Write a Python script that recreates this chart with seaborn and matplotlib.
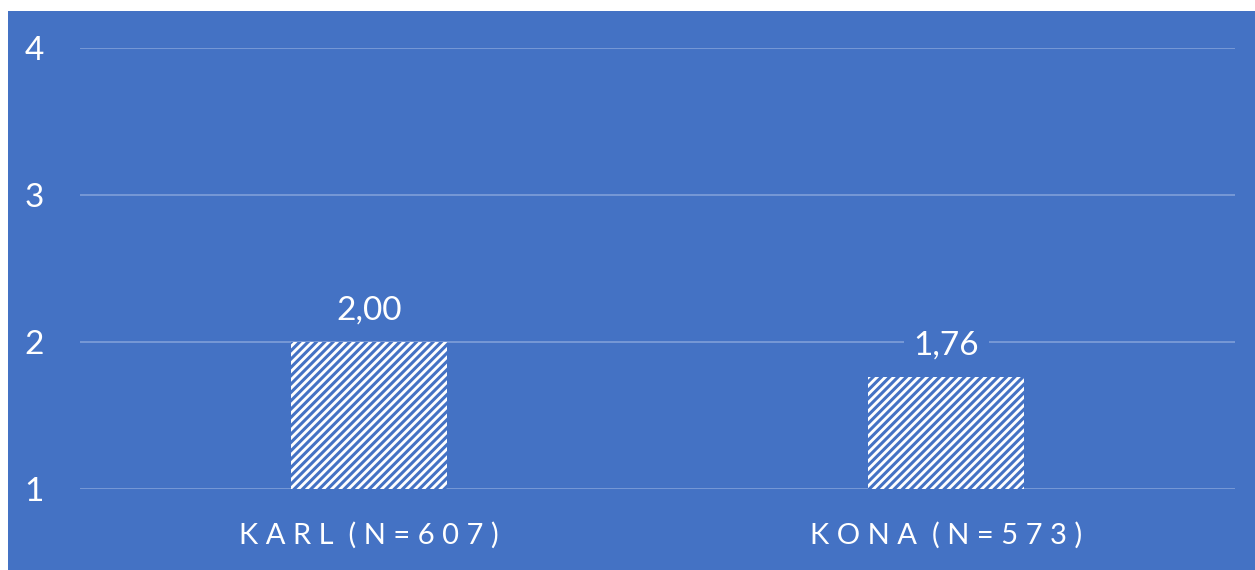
import matplotlib
matplotlib.use("Agg")
import matplotlib.pyplot as plt
import pandas as pd
import seaborn as sns
from matplotlib.patches import Rectangle

# ── Data ───────────────────────────────────────────────────────────────────
groups = ["KARL (N=607)", "KONA (N=573)"]
means = [2.00, 1.76]
y_ticks = [1, 2, 3, 4]

BLUE = "#4472C4"
GRID = "#7f9fd9"

sns.set_theme(style="white")
plt.rcParams["font.family"] = ["Lato", "DejaVu Sans"]
plt.rcParams["hatch.linewidth"] = 2.2

df = pd.DataFrame({"group": groups, "mean": means})


def spaced(text):
    """Fake letter spacing: a space between letters, two between words."""
    return "  ".join(" ".join(w) for w in text.split())


fig = plt.figure(figsize=(12.55, 5.7), dpi=100, facecolor="white")
# blue chart area (white strip at top and left like the source)
fig.patches.append(Rectangle((8 / 1255, 0), 1 - 8 / 1255, 559 / 570,
                             transform=fig.transFigure, facecolor=BLUE,
                             edgecolor="none", zorder=-1))

ax = fig.add_axes([80 / 1255, 81 / 570, 1155 / 1255, 441 / 570])
ax.set_facecolor("none")
ax.set_zorder(1)

sns.barplot(data=df, x="group", y="mean", color="white", width=0.27,
            saturation=1, ax=ax, zorder=3)
for p in ax.patches:
    p.set_facecolor("white")
    p.set_hatch("////")
    p.set_edgecolor(BLUE)
    p.set_linewidth(0)

ax.set_ylim(1, 4)
ax.set_xlim(-0.5, 1.5)
ax.set_yticks(y_ticks)
ax.set_yticklabels([str(t) for t in y_ticks])
ax.yaxis.grid(True, color=GRID, linewidth=1.2)
ax.set_axisbelow(True)
for s in ax.spines.values():
    s.set_visible(False)

ax.tick_params(axis="y", length=0, pad=26, labelsize=24, labelcolor="white")
ax.tick_params(axis="x", length=0, pad=24, labelsize=21, labelcolor="white")
ax.set_xticks(range(len(groups)))
ax.set_xticklabels([spaced(g) for g in groups])
ax.set_xlabel("")
ax.set_ylabel("")

labels = [f"{v:.2f}".replace(".", ",") for v in means]
ax.bar_label(ax.containers[0], labels=labels, padding=12, fontsize=24,
             color="white",
             bbox=dict(facecolor=BLUE, edgecolor="none", pad=7))

fig.savefig("out.png", dpi=100, facecolor="white")
